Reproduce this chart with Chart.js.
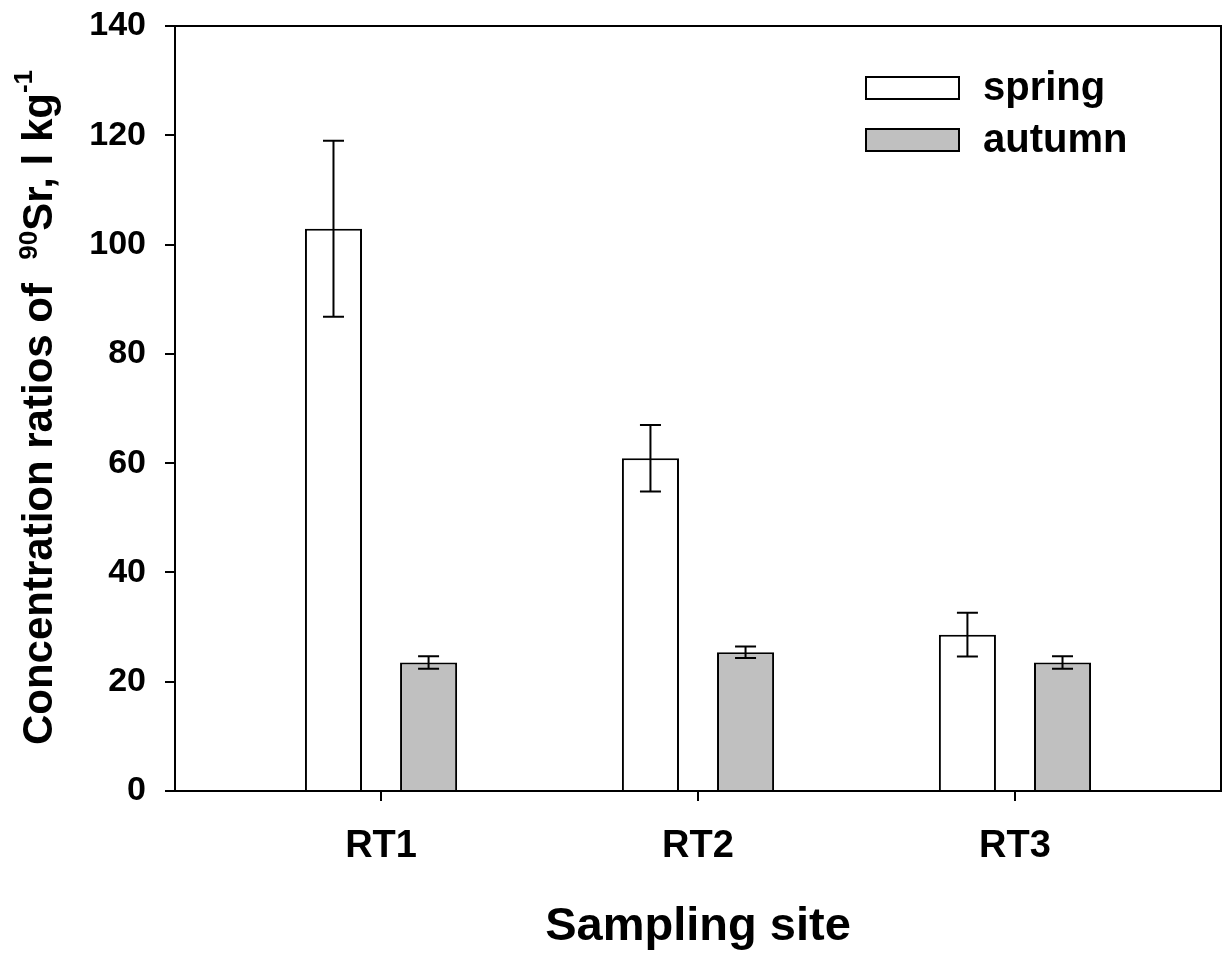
<!DOCTYPE html>
<html>
<head>
<meta charset="utf-8">
<script src="https://cdn.jsdelivr.net/npm/chart.js@4.4.1/dist/chart.umd.min.js"></script>
<style>
  html, body { margin: 0; padding: 0; background: #ffffff; }
  #wrap { width: 1225px; height: 957px; position: relative; }
</style>
</head>
<body>
<div id="wrap"><canvas id="c" width="1225" height="957"></canvas></div>
<script>
// ---- data ----
const sites = ['RT1', 'RT2', 'RT3'];
const seriesNames = ['spring', 'autumn'];
const springMeans = [102.9, 60.9, 28.6];
const springErrors = [16.1, 6.1, 4.0];
const autumnMeans = [23.5, 25.4, 23.5];
const autumnErrors = [1.15, 1.05, 1.15];
const yTicks = [0, 20, 40, 60, 80, 100, 120, 140];

const FONT = '"Liberation Sans", Arial, Helvetica, sans-serif';

function toPoints(means) {
  return means.map((v, i) => ({ x: i + 1, y: v }));
}

const errorBarPlugin = {
  id: 'errorBars',
  afterDatasetsDraw(chart) {
    const ctx = chart.ctx;
    const yScale = chart.scales.y;
    const errs = [springErrors, autumnErrors];
    ctx.save();
    ctx.strokeStyle = '#000';
    ctx.lineWidth = 2;
    chart.data.datasets.forEach((ds, di) => {
      const meta = chart.getDatasetMeta(di);
      meta.data.forEach((el, i) => {
        const v = ds.data[i].y;
        const e = errs[di][i];
        const yt = yScale.getPixelForValue(v + e);
        const yb = yScale.getPixelForValue(v - e);
        const x = el.x;
        const cap = 10.5;
        ctx.beginPath();
        ctx.moveTo(x, yt); ctx.lineTo(x, yb);
        ctx.moveTo(x - cap, yt); ctx.lineTo(x + cap, yt);
        ctx.moveTo(x - cap, yb); ctx.lineTo(x + cap, yb);
        ctx.stroke();
      });
    });
    ctx.restore();
  }
};

const framePlugin = {
  id: 'frameAndText',
  afterDraw(chart) {
    const ctx = chart.ctx;
    const a = chart.chartArea;
    ctx.save();
    // frame
    ctx.strokeStyle = '#000';
    ctx.lineWidth = 2;
    ctx.strokeRect(a.left, a.top, a.right - a.left, a.bottom - a.top);

    // legend
    const boxL = a.right - 355, boxW = 93, boxH = 22;
    const rows = [a.top + 51, a.top + 103];
    const fills = chart.data.datasets.map(d => d.backgroundColor);
    ctx.font = 'bold 40px ' + FONT;
    ctx.textBaseline = 'middle';
    ctx.textAlign = 'left';
    seriesNames.forEach((name, i) => {
      ctx.fillStyle = fills[i];
      ctx.fillRect(boxL, rows[i], boxW, boxH);
      ctx.strokeRect(boxL, rows[i], boxW, boxH);
      ctx.fillStyle = '#000';
      ctx.fillText(name, boxL + 117, rows[i] + boxH / 2 + 1);
    });

    // x title
    ctx.font = 'bold 47px ' + FONT;
    ctx.textAlign = 'center';
    ctx.textBaseline = 'alphabetic';
    ctx.fillText('Sampling site', (a.left + a.right) / 2, 940);

    // y title with superscripts
    const segs = [
      { t: 'Concentration ratios of  ', s: 42, r: 0 },
      { t: '90', s: 26, r: 15 },
      { t: 'Sr, l kg', s: 42, r: 0 },
      { t: '-1', s: 26, r: 20 }
    ];
    let total = 0;
    segs.forEach(sg => { ctx.font = 'bold ' + sg.s + 'px ' + FONT; sg.w = ctx.measureText(sg.t).width; total += sg.w; });
    ctx.translate(52, 407.5);
    ctx.rotate(-Math.PI / 2);
    ctx.textAlign = 'left';
    let x = -total / 2;
    segs.forEach(sg => {
      ctx.font = 'bold ' + sg.s + 'px ' + FONT;
      ctx.fillText(sg.t, x, -sg.r);
      x += sg.w;
    });
    ctx.restore();
  }
};

new Chart(document.getElementById('c'), {
  type: 'bar',
  data: {
    datasets: [
      { label: seriesNames[0], data: toPoints(springMeans), backgroundColor: '#ffffff', borderColor: '#000000', borderWidth: 2 },
      { label: seriesNames[1], data: toPoints(autumnMeans), backgroundColor: '#c0c0c0', borderColor: '#000000', borderWidth: 2 }
    ]
  },
  options: {
    responsive: false,
    animation: false,
    devicePixelRatio: 1,
    layout: { padding: { top: 26, right: 4, left: 0, bottom: 0 } },
    categoryPercentage: 0.6,
    barPercentage: 0.6,
    plugins: { legend: { display: false }, tooltip: { enabled: false } },
    scales: {
      x: {
        type: 'linear',
        min: 0.35,
        max: 3.65,
        offset: false,
        afterBuildTicks(scale) { scale.ticks = sites.map((s, i) => ({ value: i + 1 })); },
        afterFit(scale) { scale.height = 166; scale.paddingLeft = 0; scale.paddingRight = 0; },
        grid: { offset: false, drawOnChartArea: false, drawTicks: true, tickLength: 10, color: '#000', lineWidth: 2 },
        border: { display: true, color: '#000', width: 2 },
        ticks: {
          color: '#000',
          padding: 23,
          font: { family: FONT, size: 38, weight: 'bold' },
          callback(v) { return sites[Math.round(v) - 1]; }
        }
      },
      y: {
        min: 0,
        max: 140,
        afterBuildTicks(scale) { scale.ticks = yTicks.map(v => ({ value: v })); },
        afterFit(scale) { scale.width = 175; scale.paddingTop = 0; scale.paddingBottom = 0; },
        grid: { drawOnChartArea: false, drawTicks: true, tickLength: 10, color: '#000', lineWidth: 2 },
        border: { display: true, color: '#000', width: 2 },
        ticks: {
          color: '#000',
          padding: 19,
          font: { family: FONT, size: 34, weight: 'bold' }
        }
      }
    }
  },
  plugins: [errorBarPlugin, framePlugin]
});
</script>
</body>
</html>
